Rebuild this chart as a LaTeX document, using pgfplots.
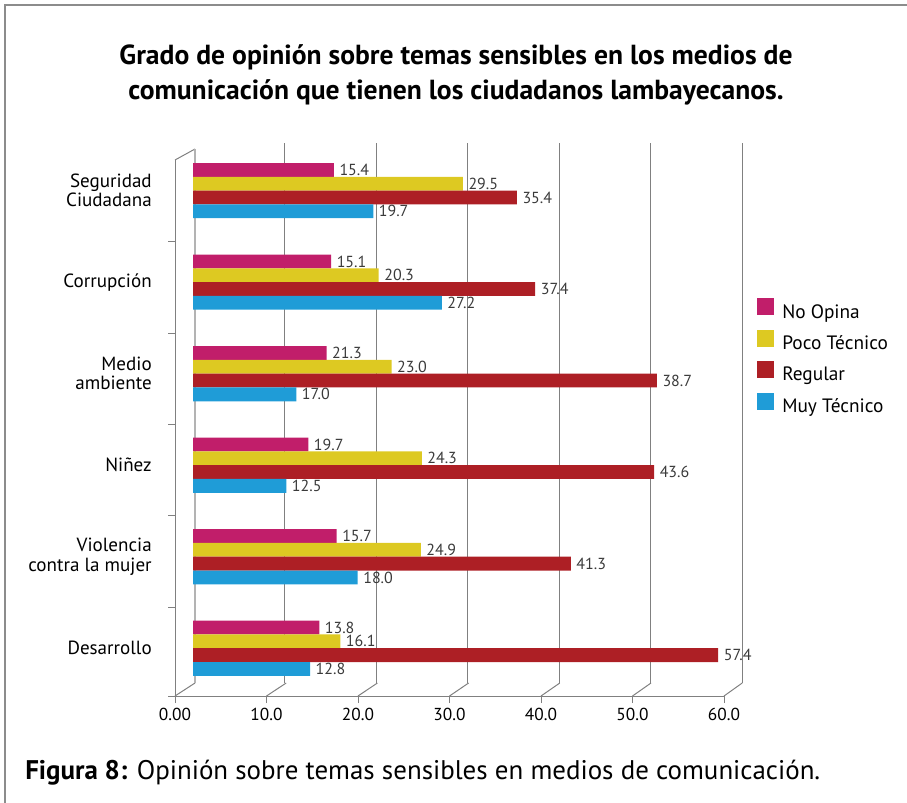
\documentclass[border=0pt]{standalone}
\usepackage{pgfplots}
\pgfplotsset{compat=1.18}
\usepackage{pgfplotstable}
\usepackage{fontspec}
\setmainfont{PT Sans}

\definecolor{cpink}{HTML}{C11E6A}
\definecolor{cyel}{HTML}{DDC922}
\definecolor{cred}{HTML}{AD1F25}
\definecolor{cblue}{HTML}{1F9CD7}
\definecolor{lbl}{HTML}{3A3A3A}
\definecolor{grd}{HTML}{808080}

% y = category (0 = top), x = drawn bar length, lab = printed value
\pgfplotstableread{
y x lab
0 15.4 15.4
1 15.1 15.1
2 14.6 21.3
3 12.6 19.7
4 15.7 15.7
5 13.8 13.8
}\tnoop
\pgfplotstableread{
y x lab
0 29.5 29.5
1 20.3 20.3
2 21.7 23.0
3 25.0 24.3
4 24.9 24.9
5 16.1 16.1
}\tpoco
\pgfplotstableread{
y x lab
0 35.4 35.4
1 37.4 37.4
2 50.7 38.7
3 50.4 43.6
4 41.3 41.3
5 57.4 57.4
}\treg
\pgfplotstableread{
y x lab
0 19.7 19.7
1 27.2 27.2
2 11.3 17.0
3 10.2 12.5
4 18.0 18.0
5 12.8 12.8
}\tmuy

\begin{document}
\begin{tikzpicture}

% front plane: axis lines, ticks and tick labels
\begin{axis}[
  at={(131.25pt,-522pt)}, anchor=south west,
  scale only axis, width=411.75pt, height=402pt,
  xmin=0, xmax=60, ymin=0, ymax=536,
  axis x line*=bottom, axis y line*=left,
  xtick={0,10,...,60},
  xticklabels={0.00,10.0,20.0,30.0,40.0,50.0,60.0},
  ytick={0,89,180.3,271.7,363,454.3}, yticklabels={},
  tick align=outside, major tick length=5.25pt,
  axis line style={grd, line width=0.75pt},
  tick style={grd, line width=0.75pt},
  xticklabel style={font=\fontsize{13}{15}\selectfont, text=black}]
\end{axis}

\begin{scope}[x=0.75pt, y=-0.75pt]
  % 3D floor connectors and back zero line
  \foreach \k in {0,...,6}
    \draw[grd, line width=0.75pt] ({175+91.5*\k},696) -- ({195+91.2*\k},683);
  \draw[grd, line width=0.75pt] (175,160) -- (195,149);
  \draw[grd!60, line width=1.3pt] (195,149) -- (195,683);
\end{scope}

% back plane: grid, bars, values, legend
\begin{axis}[
  at={(144.75pt,-512.25pt)}, anchor=south west,
  scale only axis, width=411.75pt, height=405pt,
  xmin=0, xmax=60, ymin=-0.52, ymax=5.38, y dir=reverse,
  clip=false,
  axis line style={draw=none},
  xtick={10,20,...,60}, xticklabels={}, xmajorgrids,
  grid style={grd, line width=0.75pt},
  major tick length=0pt,
  ytick={0,...,5},
  yticklabels={{Seguridad\\Ciudadana},Corrupción,{Medio\\ambiente},Niñez,{Violencia\\contra la mujer},Desarrollo},
  yticklabel style={align=right, anchor=east, inner sep=0pt, xshift=-30.75pt,
    font=\fontsize{14.3}{14.5}\selectfont, text=black},
  xbar, bar width=10.35pt,
  point meta=explicit symbolic,
  nodes near coords={\pgfplotspointmeta},
  every node near coord/.append style={anchor=west, inner sep=0pt, xshift=4pt,
    font=\fontsize{12}{13}\selectfont, text=lbl},
  legend image code/.code={\fill[#1] (0pt,-1.4pt) rectangle (12.75pt,11.35pt);},
  legend style={at={(axis description cs:1.0273,0.713)}, anchor=north west,
    draw=none, fill=none, inner sep=0pt, row sep=5.75pt,
    nodes={inner sep=0pt, text height=10pt, text depth=3pt},
    font=\fontsize{14.5}{15}\selectfont},
  legend cell align=left,
  /tikz/every odd column/.append style={column sep=6pt},
]
\addplot[fill=cpink, draw=none, bar shift=15.525pt] table[x=x, y=y, meta=lab] {\tnoop};
\addplot[fill=cyel, draw=none, bar shift=5.175pt] table[x=x, y=y, meta=lab] {\tpoco};
\addplot[fill=cred, draw=none, bar shift=-5.175pt] table[x=x, y=y, meta=lab] {\treg};
\addplot[fill=cblue, draw=none, bar shift=-15.525pt] table[x=x, y=y, meta=lab] {\tmuy};
\legend{No Opina, Poco Técnico, Regular, Muy Técnico}
\end{axis}

\begin{scope}[x=0.75pt, y=-0.75pt]
  % title and caption
  \node[align=center, font=\bfseries\fontsize{20.7}{26.25}\selectfont] at (456,74.5)
    {Grado de opinión sobre temas sensibles en los medios de\\comunicación que tienen los ciudadanos lambayecanos.};
  \node[anchor=west, inner sep=0pt, font=\fontsize{20.2}{24}\selectfont] at (25,773)
    {\textbf{Figura 8:} Opinión sobre temas sensibles en medios de comunicación.};
  % frame
  \draw[gray!90, line width=1pt] (5,803) -- (5,5) -- (907,5);
  \pgfresetboundingbox
  \path[use as bounding box] (0,0) rectangle (907,803);
\end{scope}
\end{tikzpicture}
\end{document}
